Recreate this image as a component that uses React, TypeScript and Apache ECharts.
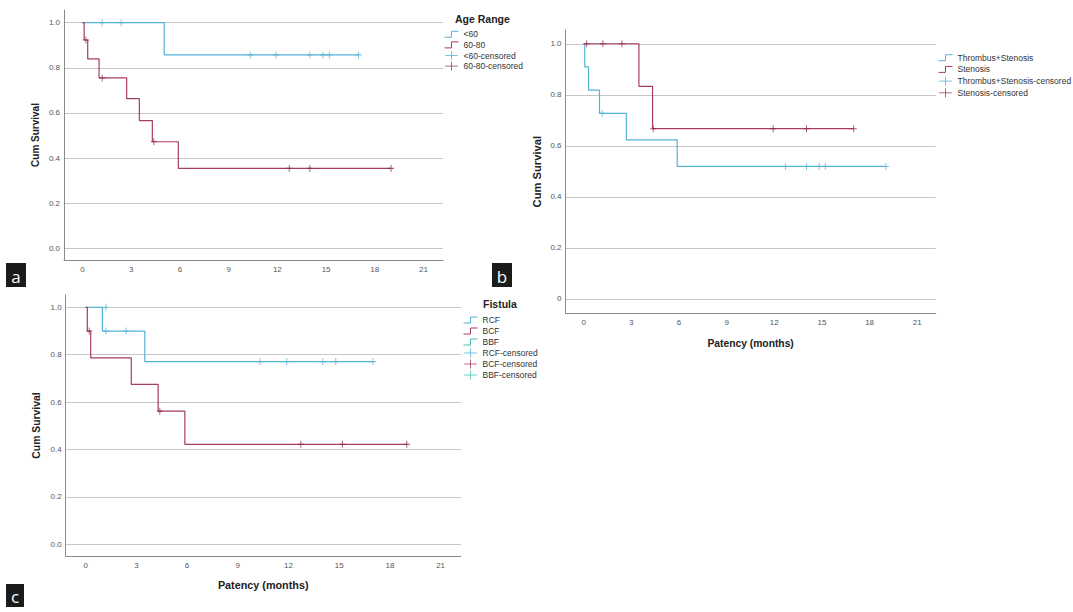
import React, { useEffect, useRef } from 'react';
import * as echarts from 'echarts';

// ---------- data ----------
const xTickValues = [0, 3, 6, 9, 12, 15, 18, 21];
const yTickValues = [0, 0.2, 0.4, 0.6, 0.8, 1.0];

// Panel a: Age Range
const under60Time = [0, 5.03, 17.0];
const under60Surv = [1, 0.857, 0.857];
const under60CensTime = [1.21, 2.38, 10.33, 11.92, 14.0, 14.81, 15.2, 17.0];
const under60CensSurv = [1, 1, 0.857, 0.857, 0.857, 0.857, 0.857, 0.857];
const age6080Time = [0, 0.1, 0.32, 1.02, 2.72, 3.5, 4.3, 5.9, 19.0];
const age6080Surv = [1, 0.923, 0.839, 0.755, 0.663, 0.566, 0.472, 0.354, 0.354];
const age6080CensTime = [0.21, 1.21, 4.39, 12.73, 14.0, 19.0];
const age6080CensSurv = [0.923, 0.755, 0.472, 0.354, 0.354, 0.354];

// Panel b: Thrombus+Stenosis vs Stenosis
const tsTime = [0, 0.07, 0.31, 1.0, 2.69, 5.89, 19.03];
const tsSurv = [1, 0.909, 0.818, 0.727, 0.623, 0.519, 0.519];
const tsCensTime = [1.17, 12.71, 14.03, 14.83, 15.21, 19.03];
const tsCensSurv = [0.727, 0.519, 0.519, 0.519, 0.519, 0.519];
const stTime = [0, 3.48, 4.34, 17.0];
const stSurv = [1, 0.833, 0.667, 0.667];
const stCensTime = [0.19, 1.21, 2.41, 4.38, 11.93, 14.03, 17.0];
const stCensSurv = [1, 1, 1, 0.667, 0.667, 0.667, 0.667];

// Panel c: Fistula
const rcfTime = [0, 0.99, 3.5, 17.0];
const rcfSurv = [1, 0.9, 0.771, 0.771];
const rcfCensTime = [1.2, 1.2, 2.39, 10.31, 11.9, 14.03, 14.8, 17.0];
const rcfCensSurv = [1, 0.9, 0.9, 0.771, 0.771, 0.771, 0.771, 0.771];
const bcfTime = [0, 0.1, 0.3, 2.7, 4.29, 5.87, 19.0];
const bcfSurv = [1, 0.9, 0.787, 0.675, 0.562, 0.422, 0.422];
const bcfCensTime = [0.21, 4.39, 12.73, 15.2, 19.0];
const bcfCensSurv = [0.9, 0.562, 0.422, 0.422, 0.422];
const bbfTime: number[] = [];
const bbfSurv: number[] = [];

// ---------- styles ----------
const BLUE = '#56b3d8';
const RED = '#a63c63';
const RED_MARK = '#8e2c54';
const TEAL = '#46c2b1';
const GRID = '#c6c6c6';
const AXIS = '#8a8a8a';
const FONT = "'Liberation Sans', Arial, sans-serif";
const STEP_ICON = 'path://M0,6 L7,6 L7,0 L14,0';
const CROSS_ICON = 'path://M0,5 L14,5 M7,0 L7,10';
const MARK = 'path://M0,5 L10,5 M5,0 L5,10';

const pairs = (xs: number[], ys: number[]) => xs.map((x, i) => [x, ys[i]]);

function stepSeries(name: string, xs: number[], ys: number[], color: string, idx: number) {
  return {
    name,
    type: 'line',
    step: 'end',
    xAxisIndex: idx,
    yAxisIndex: idx,
    data: pairs(xs, ys),
    showSymbol: false,
    symbol: 'none',
    silent: true,
    itemStyle: { color },
    lineStyle: { color, width: 1.2 },
    z: 3,
  };
}

function censSeries(name: string, xs: number[], ys: number[], color: string, idx: number) {
  return {
    name,
    type: 'scatter',
    xAxisIndex: idx,
    yAxisIndex: idx,
    data: pairs(xs, ys),
    symbol: MARK,
    symbolSize: [6, 7],
    silent: true,
    itemStyle: { color: 'rgba(0,0,0,0)', borderColor: color, borderWidth: 1 },
    z: 4,
  };
}

function legendItem(name: string, icon: string, color: string) {
  return { name, icon, itemStyle: { color: 'rgba(0,0,0,0)', borderColor: color, borderWidth: 1 } };
}

function xAxisCfg(idx: number, min: number, max: number, name: string, nameGap: number, nameSize: number) {
  return {
    gridIndex: idx,
    type: 'value',
    min,
    max,
    axisLine: { show: true, onZero: false, lineStyle: { color: AXIS, width: 1 } },
    axisTick: { show: false, customValues: xTickValues },
    axisLabel: { customValues: xTickValues, fontSize: 8, color: '#555', margin: 5, fontFamily: FONT },
    splitLine: { show: false },
    name,
    nameLocation: 'middle',
    nameGap,
    nameTextStyle: { fontSize: nameSize, fontWeight: 'bold', color: '#222', fontFamily: FONT },
  };
}

function yAxisCfg(idx: number, min: number, max: number, nameGap: number, nameSize: number, zeroPlain: boolean) {
  return {
    gridIndex: idx,
    type: 'value',
    min,
    max,
    axisLine: { show: true, onZero: false, lineStyle: { color: AXIS, width: 1 } },
    axisTick: { show: false, customValues: yTickValues },
    axisLabel: {
      customValues: yTickValues,
      fontSize: 8,
      color: '#555',
      margin: 4,
      fontFamily: FONT,
      formatter: (v: number) => (zeroPlain && Math.abs(v) < 1e-9 ? '0' : v.toFixed(1)),
    },
    splitLine: { show: true, lineStyle: { color: GRID, width: 1 } },
    name: 'Cum Survival',
    nameLocation: 'middle',
    nameGap,
    nameTextStyle: { fontSize: nameSize, fontWeight: 'bold', color: '#222', fontFamily: FONT },
  };
}

function letterBox(letter: string, x: number, y: number, w: number, h: number) {
  return {
    type: 'group',
    children: [
      { type: 'rect', shape: { x, y, width: w, height: h }, style: { fill: '#1b1b1b' } },
      {
        type: 'text',
        x: x + w / 2,
        y: y + h / 2 + 1,
        style: {
          text: letter,
          fill: '#ffffff',
          fontSize: 17,
          fontFamily: "'Open Sans', 'Noto Sans', sans-serif",
          align: 'center',
          verticalAlign: 'middle',
        },
      },
    ],
  };
}

export default function App() {
  const ref = useRef<HTMLDivElement>(null);

  useEffect(() => {
    if (!ref.current) return;
    const chart = echarts.init(ref.current, undefined, { renderer: 'svg' });
    const legendText = { fontSize: 8.5, color: '#333', fontFamily: FONT, lineHeight: 10 };
    chart.setOption({
      animation: false,
      backgroundColor: '#ffffff',
      textStyle: { fontFamily: FONT },
      title: [
        { text: 'Age Range', left: 455, top: 13, padding: 0, textStyle: { fontSize: 10.5, fontWeight: 'bold', color: '#222', fontFamily: FONT } },
        { text: 'Fistula', left: 483, top: 298, padding: 0, textStyle: { fontSize: 10.5, fontWeight: 'bold', color: '#222', fontFamily: FONT } },
      ],
      legend: [
        {
          orient: 'vertical', left: 444, top: 29.3, padding: 0, itemWidth: 14, itemHeight: 9, itemGap: 0.6,
          selectedMode: false, textStyle: legendText,
          data: [
            legendItem('<60', STEP_ICON, BLUE),
            legendItem('60-80', STEP_ICON, RED),
            legendItem('<60-censored', CROSS_ICON, BLUE),
            legendItem('60-80-censored', CROSS_ICON, RED),
          ],
        },
        {
          orient: 'vertical', left: 938, top: 52.7, padding: 0, itemWidth: 14, itemHeight: 9, itemGap: 1.7,
          selectedMode: false, textStyle: legendText,
          data: [
            legendItem('Thrombus+Stenosis', STEP_ICON, BLUE),
            legendItem('Stenosis', STEP_ICON, RED),
            legendItem('Thrombus+Stenosis-censored', CROSS_ICON, BLUE),
            legendItem('Stenosis-censored', CROSS_ICON, RED),
          ],
        },
        {
          orient: 'vertical', left: 463, top: 315, padding: 0, itemWidth: 14, itemHeight: 9, itemGap: 1,
          selectedMode: false, textStyle: legendText,
          data: [
            legendItem('RCF', STEP_ICON, BLUE),
            legendItem('BCF', STEP_ICON, RED),
            legendItem('BBF', STEP_ICON, TEAL),
            legendItem('RCF-censored', CROSS_ICON, BLUE),
            legendItem('BCF-censored', CROSS_ICON, RED),
            legendItem('BBF-censored', CROSS_ICON, TEAL),
          ],
        },
      ],
      grid: [
        { left: 64, top: 10, width: 379, height: 250 },
        { left: 565.5, top: 30, width: 370.2, height: 283.3 },
        { left: 65.7, top: 295, width: 395, height: 261 },
      ],
      xAxis: [
        xAxisCfg(0, -1.14, 22.2, '', 25, 10),
        xAxisCfg(1, -1.14, 22.16, 'Patency (months)', 25, 10.3),
        xAxisCfg(2, -1.18, 22.19, 'Patency (months)', 23, 10.8),
      ],
      yAxis: [
        yAxisCfg(0, -0.052, 1.056, 23.5, 10, false),
        yAxisCfg(1, -0.057, 1.054, 23, 11.2, true),
        yAxisCfg(2, -0.049, 1.052, 24.5, 10.4, false),
      ],
      series: [
        stepSeries('<60', under60Time, under60Surv, BLUE, 0),
        stepSeries('60-80', age6080Time, age6080Surv, RED, 0),
        censSeries('<60-censored', under60CensTime, under60CensSurv, BLUE, 0),
        censSeries('60-80-censored', age6080CensTime, age6080CensSurv, RED_MARK, 0),

        stepSeries('Thrombus+Stenosis', tsTime, tsSurv, BLUE, 1),
        stepSeries('Stenosis', stTime, stSurv, RED, 1),
        censSeries('Thrombus+Stenosis-censored', tsCensTime, tsCensSurv, BLUE, 1),
        censSeries('Stenosis-censored', stCensTime, stCensSurv, RED_MARK, 1),

        stepSeries('RCF', rcfTime, rcfSurv, BLUE, 2),
        stepSeries('BCF', bcfTime, bcfSurv, RED, 2),
        stepSeries('BBF', bbfTime, bbfSurv, TEAL, 2),
        censSeries('RCF-censored', rcfCensTime, rcfCensSurv, BLUE, 2),
        censSeries('BCF-censored', bcfCensTime, bcfCensSurv, RED_MARK, 2),
        censSeries('BBF-censored', bbfTime, bbfSurv, TEAL, 2),
      ],
      graphic: [
        letterBox('a', 6, 263, 20, 24),
        letterBox('b', 492, 263, 20, 24),
        letterBox('c', 6, 584, 18, 23),
      ],
    });
    return () => chart.dispose();
  }, []);

  return (
    <div
      ref={ref}
      style={{ position: 'absolute', left: 0, top: 0, width: 1073, height: 612, background: '#fff' }}
    />
  );
}
